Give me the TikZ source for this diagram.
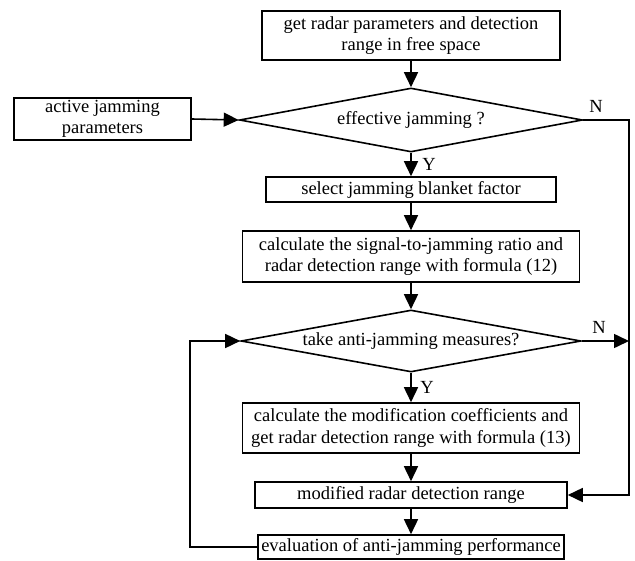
\documentclass[tikz,border=0pt]{standalone}
\usepackage{fontspec}
\setmainfont{Liberation Serif}
\usetikzlibrary{shapes.geometric,arrows.meta}
\begin{document}
\begin{tikzpicture}[x=1pt,y=-1pt,
  every node/.style={font=\fontsize{18.5}{21.5}\selectfont},
  box/.style={draw,line width=1.6pt,inner sep=0pt,align=center},
  dia/.style={draw,line width=1.6pt,diamond,aspect=6,inner sep=0pt},
  arr/.style={line width=1.6pt,-{Triangle[length=15pt,width=14pt]}},
  lbl/.style={inner sep=0pt}]
\useasboundingbox (0,0) rectangle (635,560);
\node[box,minimum width=298pt,minimum height=49pt] (b1) at (411,35.5) {get radar parameters and detection\\range in free space};
\node[dia,minimum width=343pt,minimum height=64pt] (d1) at (411,120) {effective jamming ?};
\node[box,minimum width=177pt,minimum height=42pt] (act) at (102.5,119) {active jamming\\parameters};
\node[box,minimum width=290pt,minimum height=25pt] (b3) at (411,189.5) {select jamming blanket factor};
\node[box,minimum width=337pt,minimum height=51pt] (b4) at (411,256.5) {calculate the signal-to-jamming ratio and\\radar detection range with formula (12)};
\node[dia,minimum width=340pt,minimum height=62pt] (d2) at (411,341) {take anti-jamming measures?};
\node[box,minimum width=337pt,minimum height=50pt] (b5) at (411,428) {calculate the modification coefficients and\\get radar detection range with formula (13)};
\node[box,minimum width=312pt,minimum height=26pt] (b6) at (411,495) {modified radar detection range};
\node[box,minimum width=306pt,minimum height=24pt] (b7) at (411,547) {evaluation of anti-jamming performance};
\coordinate (r1) at (629,120);
\coordinate (r2) at (629,341);
\coordinate (r3) at (629,495);
\coordinate (l1) at (190,547);
\coordinate (l2) at (190,341);
\draw[arr] (b1.south) -- (d1.north);
\draw[arr] (act.east) -- (d1.west);
\draw[arr] (d1.south) -- (b3.north);
\draw[arr] (b3.south) -- (b4.north);
\draw[arr] (b4.south) -- (d2.north);
\draw[arr] (d2.south) -- (b5.north);
\draw[arr] (b5.south) -- (b6.north);
\draw[arr] (b6.south) -- (b7.north);
\draw[arr] (d1.east) -- (r1) -- (r3) -- (b6.east);
\draw[arr] (d2.east) -- (r2);
\draw[arr] (b7.west) -- (l1) -- (l2) -- (d2.west);
\node[lbl] (n1) at (596,106) {N};
\node[lbl] (n2) at (599,327) {N};
\node[lbl] (y1) at (429,164) {Y};
\node[lbl] (y2) at (427,387) {Y};
\end{tikzpicture}
\end{document}
